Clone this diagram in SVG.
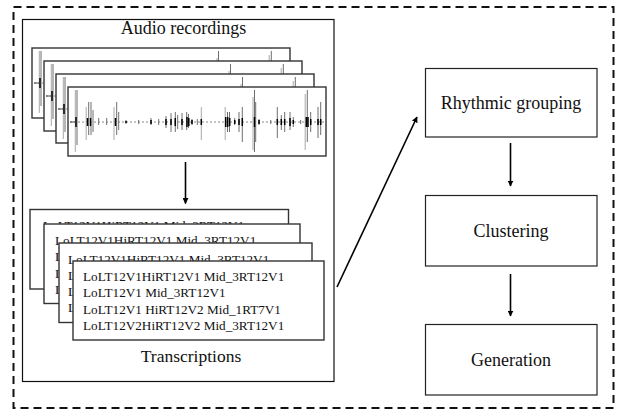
<svg xmlns="http://www.w3.org/2000/svg" xmlns:xlink="http://www.w3.org/1999/xlink" width="622" height="414" viewBox="0 0 622 414">
  <style>
    .serif { font-family: "Liberation Serif", "Times New Roman", serif; fill: #111; }
    .title { font-size: 18px; text-anchor: middle; }
    .line { font-size: 13.2px; }
    .frame { fill: #fff; stroke: #333; stroke-width: 1.4; }
    .box { fill: #fff; stroke: #222; stroke-width: 1.2; }
    .edge { fill: none; stroke: #000; stroke-width: 1.6; }
    .spk { stroke: #6e6e6e; stroke-width: 1; }
    .spk-light { stroke: #a8a8a8; stroke-width: 1; }
    .core { stroke: #000; stroke-width: 1.5; }
  </style>
  <defs>
    <marker id="arrow" viewBox="0 0 10 10" refX="9" refY="5" markerWidth="6" markerHeight="6" orient="auto" markerUnits="userSpaceOnUse">
      <path d="M0,0 L10,5 L0,10 z" fill="#000"/>
    </marker>
    <!-- one recording waveform, local origin at the frame's top-left, centre line at y=35 -->
    <g id="wave">
      <line x1="2" y1="35" x2="256" y2="35" stroke="#888" stroke-width="1" stroke-dasharray="2 2"/>
      <line x1="2" y1="35" x2="7" y2="35" stroke="#444" stroke-width="1"/>
      <path class="spk-light" d="M7.3,3 V65 M18.2,20 V53 M46,20 V53 M133.3,20 V53 M157.2,20 V53 M185,10 V63 M237.2,7 V63"/>
      <path class="spk" d="M9,3 V58 M20.7,15 V48 M23,15 V48 M25,23 V45 M30.7,31 V38 M38.7,31 V38 M48.7,15 V48 M50.7,25 V43 M58,33 V37 M70.7,33 V37 M83,31 V38 M90.7,32 V38 M98,29 V41 M103,26 V45 M107.3,25 V45 M109.7,28 V42 M114,26 V43 M118.7,25 V43 M120.5,27 V41 M124,32 V38 M129.3,32 V38 M159.5,25 V45 M161.5,25 V45 M166.7,31 V38 M171,25 V45 M174.3,20 V55 M186.5,3 V65 M187.7,15 V55 M191,32 V38 M202.7,33 V37 M209.3,20 V51 M213.3,28 V43 M216.7,25 V45 M222,25 V43 M225.3,30 V40 M232.7,33 V37 M239.3,3 V55 M242.7,25 V45 M250,20 V51 M252.7,15 V48"/>
      <path class="core" d="M8,30 V40 M19.5,31 V39 M22.5,31 V39 M47.5,31 V39 M58,34 V36 M83,33 V37 M98,32 V38 M103,32 V38 M107.3,31 V39 M114,32 V38 M119,30 V40 M120.8,31 V39 M124,33 V37 M133.3,32 V38 M157.7,30 V40 M159.7,30 V40 M161.7,31 V39 M166.7,33 V37 M171,32 V38 M174.3,31 V39 M186.5,30 V40 M191,33 V37 M209.3,32 V38 M213.3,32 V38 M216.7,32 V38 M222,31 V39 M225.3,33 V37 M238.3,30 V40 M240,30 V40 M242.7,32 V38 M250,32 V38 M252.7,32 V38"/>
    </g>
  </defs>

  <!-- dashed system boundary -->
  <rect x="13.5" y="7" width="600" height="401" fill="none" stroke="#111" stroke-width="2" stroke-dasharray="8 5"/>

  <!-- data panel: recordings and their transcriptions -->
  <g id="data-panel">
    <rect x="22.5" y="19.5" width="311.5" height="362" fill="#fff" stroke="#111" stroke-width="1.2"/>
    <text class="serif title" x="183.5" y="34">Audio recordings</text>
    <text class="serif title" x="191" y="362" style="font-size:17.5px">Transcriptions</text>
  </g>

  <g id="audio-recordings">
    <g transform="translate(32,48)">
      <rect class="frame" x="0" y="0" width="258" height="70"/>
      <use xlink:href="#wave" href="#wave" x="0" y="0"/>
    </g>
    <g transform="translate(44,61)">
      <rect class="frame" x="0" y="0" width="258" height="70"/>
      <use xlink:href="#wave" href="#wave" x="0" y="0"/>
    </g>
    <g transform="translate(56,74)">
      <rect class="frame" x="0" y="0" width="258" height="69"/>
      <use xlink:href="#wave" href="#wave" x="0" y="0"/>
    </g>
    <g transform="translate(68,87)">
      <rect class="frame" x="0" y="0" width="258" height="69"/>
      <use xlink:href="#wave" href="#wave" x="0" y="0"/>
    </g>
  </g>

  <g id="transcriptions">
    <g>
      <rect class="frame" x="30" y="209.5" width="258.5" height="79.5"/>
      <text class="serif line" x="43" y="230">LoLT12V1HiRT12V1 Mid_3RT12V1</text>
    </g>
    <g>
      <rect class="frame" x="44" y="224" width="256" height="79.5"/>
      <text class="serif line" x="55" y="245">LoLT12V1HiRT12V1 Mid_3RT12V1</text>
      <text class="serif line" x="55" y="261.3">LoLT12V1 Mid_3RT12V1</text>
      <text class="serif line" x="55" y="277.6">LoLT12V1 HiRT12V2 Mid_1RT7V1</text>
      <text class="serif line" x="55" y="293.9">LoLT12V2HiRT12V2 Mid_3RT12V1</text>
    </g>
    <g>
      <rect class="frame" x="59" y="243" width="253" height="79.5"/>
      <text class="serif line" x="68" y="263.5">LoLT12V1HiRT12V1 Mid_3RT12V1</text>
      <text class="serif line" x="68" y="279.8">LoLT12V1 Mid_3RT12V1</text>
      <text class="serif line" x="68" y="296.1">LoLT12V1 HiRT12V2 Mid_1RT7V1</text>
      <text class="serif line" x="68" y="312.4">LoLT12V2HiRT12V2 Mid_3RT12V1</text>
    </g>
    <g>
      <rect class="frame" x="73" y="261" width="251" height="79"/>
      <text class="serif line" x="83" y="281">LoLT12V1HiRT12V1 Mid_3RT12V1</text>
      <text class="serif line" x="83" y="297.3">LoLT12V1 Mid_3RT12V1</text>
      <text class="serif line" x="83" y="313.6">LoLT12V1 HiRT12V2 Mid_1RT7V1</text>
      <text class="serif line" x="83" y="329.9">LoLT12V2HiRT12V2 Mid_3RT12V1</text>
    </g>
  </g>

  <g id="rhythmic-grouping">
    <rect class="box" x="425.5" y="68.5" width="171.5" height="68.5"/>
    <text class="serif title" x="511" y="109">Rhythmic grouping</text>
  </g>
  <g id="clustering">
    <rect class="box" x="425.5" y="195.5" width="171.5" height="70.5"/>
    <text class="serif title" x="511" y="237">Clustering</text>
  </g>
  <g id="generation">
    <rect class="box" x="425.5" y="324.5" width="171.5" height="70.5"/>
    <text class="serif title" x="511" y="366">Generation</text>
  </g>

  <g id="connectors">
    <line class="edge" x1="185.5" y1="162" x2="185.5" y2="203.5" marker-end="url(#arrow)"/>
    <line class="edge" x1="337" y1="287" x2="417" y2="117" marker-end="url(#arrow)"/>
    <line class="edge" x1="510.5" y1="143" x2="510.5" y2="186" marker-end="url(#arrow)"/>
    <line class="edge" x1="510.5" y1="274" x2="510.5" y2="316" marker-end="url(#arrow)"/>
  </g>
</svg>
